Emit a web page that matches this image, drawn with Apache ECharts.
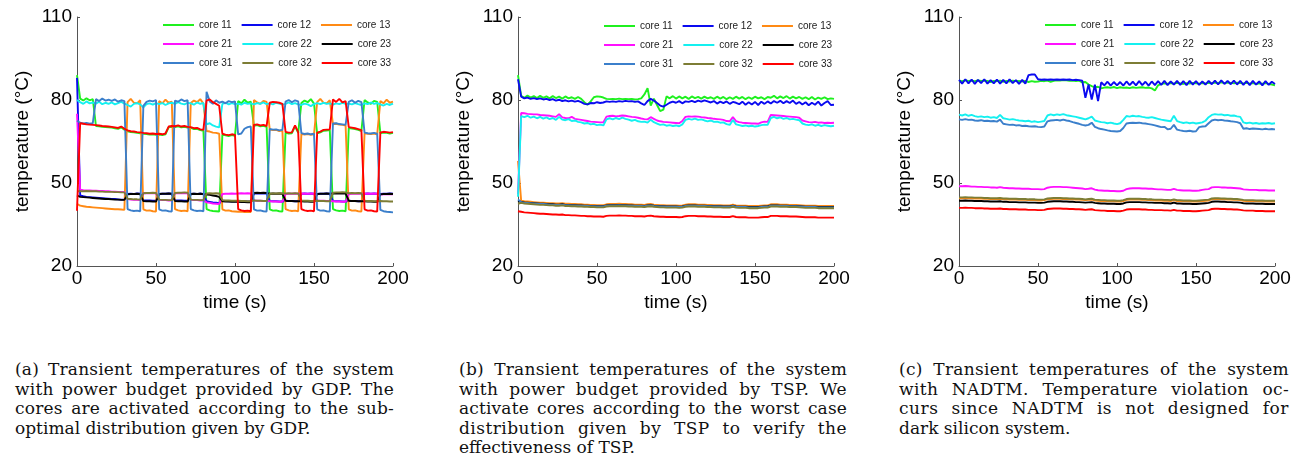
<!DOCTYPE html>
<html>
<head>
<meta charset="utf-8">
<script src="https://cdn.jsdelivr.net/npm/echarts@6/dist/echarts.min.js"></script>
<style>
  html, body { margin: 0; padding: 0; background: #fff; }
  #chart { position: absolute; left: 0; top: 0; width: 1307px; height: 330px; }
  .caption { position: absolute; top: 360px; font-family: "DejaVu Serif", serif; font-size: 17px; line-height: 19.6px; color: #111; }
  .caption div { white-space: nowrap; }
</style>
</head>
<body>
<div id="chart"></div>
<div class="caption" style="left:15px;width:379px">
  <div><span>(a) Transient temperatures of the system</span></div>
  <div><span>with power budget provided by GDP. The</span></div>
  <div><span>cores are activated according to the sub-</span></div>
  <div class="last"><span>optimal distribution given by GDP.</span></div>
</div>
<div class="caption" style="left:459px;width:388px">
  <div><span>(b) Transient temperatures of the system</span></div>
  <div><span>with power budget provided by TSP. We</span></div>
  <div><span>activate cores according to the worst case</span></div>
  <div><span>distribution given by TSP to verify the</span></div>
  <div class="last"><span>effectiveness of TSP.</span></div>
</div>
<div class="caption" style="left:899px;width:390px">
  <div><span>(c) Transient temperatures of the system</span></div>
  <div><span>with NADTM. Temperature violation oc-</span></div>
  <div><span>curs since NADTM is not designed for</span></div>
  <div class="last"><span>dark silicon system.</span></div>
</div>
<script>
const time = [0, 2, 4, 6, 8, 10, 12, 14, 16, 18, 20, 22, 24, 26, 28, 30, 32, 34, 36, 38,
  40, 42, 44, 46, 48, 50, 52, 54, 56, 58, 60, 62, 64, 66, 68, 70, 72, 74, 76, 78,
  80, 82, 84, 86, 88, 90, 92, 94, 96, 98, 100, 102, 104, 106, 108, 110, 112, 114, 116, 118,
  120, 122, 124, 126, 128, 130, 132, 134, 136, 138, 140, 142, 144, 146, 148, 150, 152, 154, 156, 158,
  160, 162, 164, 166, 168, 170, 172, 174, 176, 178, 180, 182, 184, 186, 188, 190, 192, 194, 196, 198, 200];
const coreNames = ["core 11", "core 12", "core 13", "core 21", "core 22", "core 23", "core 31", "core 32", "core 33"];
const timeTicks = [0, 50, 100, 150, 200];
const tempTicks = [20, 50, 80, 110];

// (a) GDP
const gdp11 = [89.0,
  80.5, 79.8, 80.6, 79.9, 80.3, 70.6, 70.5, 70.3, 70.2, 70.1, 70.0, 69.8, 69.6, 70.1, 69.3,
  68.7, 68.4, 68.3, 68.1, 68.0, 67.8, 67.7, 67.5, 67.6, 67.4, 67.5, 67.3, 67.6, 70.1, 70.3,
  70.2, 70.5, 70.1, 70.3, 70.0, 69.9, 69.5, 69.6, 69.1, 68.9, 40.6, 40.1, 39.9, 39.8, 39.7,
  67.5, 67.2, 67.0, 67.3, 67.1, 79.6, 78.8, 80.1, 79.0, 79.4, 70.7, 70.9, 70.5, 70.7, 70.3,
  40.5, 40.0, 40.1, 39.8, 39.7, 68.2, 67.9, 68.0, 70.5, 68.1, 78.9, 79.8, 79.2, 80.3, 78.7,
  67.9, 68.3, 68.9, 69.0, 69.1, 40.6, 40.1, 39.9, 40.0, 39.8, 69.9, 69.7, 69.5, 69.2, 68.8,
  80.0, 79.1, 78.6, 79.7, 79.3, 68.0, 68.2, 68.1, 67.9, 68.1];
const gdp12 = [88.0,
  45.5, 45.2, 45.0, 44.9, 44.8, 44.7, 44.6, 44.5, 44.4, 44.3, 44.2, 44.2, 44.1, 44.0, 44.0,
  46.0, 46.1, 46.0, 46.2, 46.1, 43.8, 43.7, 43.7, 43.6, 43.6, 46.0, 46.1, 46.1, 46.2, 46.1,
  43.8, 43.7, 43.7, 43.6, 43.6, 46.0, 46.1, 46.0, 46.2, 46.0, 43.4, 43.2, 43.0, 42.9, 42.7,
  43.6, 43.5, 43.4, 43.5, 43.4, 43.5, 43.4, 43.4, 43.3, 43.3, 46.2, 46.3, 46.2, 46.3, 46.2,
  43.5, 43.4, 43.4, 43.3, 43.3, 43.6, 43.5, 43.5, 43.4, 43.4, 46.1, 46.2, 46.1, 46.2, 46.1,
  46.0, 46.1, 46.1, 46.2, 46.1, 43.5, 43.4, 43.4, 43.3, 43.3, 43.6, 43.5, 43.5, 43.4, 43.4,
  46.1, 46.2, 46.1, 46.2, 46.1, 46.0, 46.1, 46.1, 46.2, 46.1];
const gdp13 = [42.5,
  41.8, 41.6, 41.4, 41.3, 41.2, 41.1, 41.0, 40.9, 40.8, 40.7, 40.6, 40.5, 40.5, 40.4, 40.3,
  79.2, 80.4, 79.0, 78.8, 79.9, 40.5, 40.0, 40.1, 39.8, 39.7, 79.6, 78.8, 80.1, 79.0, 79.4,
  40.6, 40.1, 39.9, 40.0, 39.8, 78.9, 79.8, 79.2, 80.3, 78.7, 68.8, 68.6, 68.2, 68.1, 67.8,
  40.5, 40.0, 40.1, 39.8, 39.7, 39.6, 39.7, 39.5, 39.6, 39.5, 80.0, 79.1, 78.6, 79.7, 79.3,
  69.3, 69.1, 69.2, 68.8, 69.0, 40.6, 40.1, 39.9, 40.0, 39.8, 67.8, 67.5, 67.7, 67.4, 67.6,
  79.2, 80.4, 79.0, 78.8, 79.9, 71.3, 71.4, 71.1, 71.0, 70.8, 40.5, 40.0, 40.1, 39.8, 39.7,
  68.0, 67.8, 67.7, 67.9, 67.6, 79.6, 78.8, 80.1, 79.0, 79.4];
const gdp21 = [75.0,
  47.6, 47.4, 47.3, 47.3, 47.2, 47.2, 47.1, 47.1, 47.0, 47.0, 46.9, 46.9, 46.8, 46.8, 46.7,
  44.2, 44.0, 43.9, 43.9, 43.8, 46.3, 46.4, 46.3, 46.4, 46.3, 43.9, 43.8, 43.8, 43.7, 43.7,
  46.3, 46.4, 46.3, 46.4, 46.3, 43.9, 43.8, 43.8, 43.7, 43.7, 43.0, 42.8, 42.6, 42.5, 42.4,
  46.0, 46.1, 46.1, 46.2, 46.1, 46.2, 46.3, 46.2, 46.3, 46.2, 43.7, 43.6, 43.6, 43.5, 43.5,
  43.4, 43.3, 43.3, 43.2, 43.2, 46.0, 46.1, 46.1, 46.2, 46.1, 46.1, 46.2, 46.1, 46.2, 46.1,
  43.7, 43.6, 43.6, 43.5, 43.5, 43.4, 43.3, 43.3, 43.2, 43.2, 46.0, 46.1, 46.1, 46.2, 46.1,
  46.1, 46.2, 46.1, 46.2, 46.1, 45.8, 45.9, 45.9, 46.0, 45.9];
const gdp22 = [80.0,
  79.2, 78.6, 79.5, 78.8, 79.1, 78.7, 79.4, 78.5, 79.0, 78.6, 79.1, 78.4, 78.9, 79.3, 78.7,
  78.2, 77.6, 78.6, 78.9, 78.4, 77.3, 78.5, 78.8, 78.3, 78.9, 78.5, 78.9, 78.2, 78.8, 79.0,
  78.6, 79.2, 78.7, 78.4, 79.0, 78.8, 78.3, 79.1, 78.6, 78.9, 71.2, 71.6, 70.8, 70.4, 70.1,
  78.6, 79.0, 78.4, 78.9, 78.5, 78.7, 78.3, 79.0, 78.6, 78.8, 78.4, 78.9, 78.6, 79.1, 78.5,
  78.8, 78.4, 79.0, 78.7, 78.3, 78.6, 79.1, 78.5, 78.9, 78.4, 78.2, 78.7, 78.4, 77.8, 78.5,
  78.9, 78.5, 79.0, 78.6, 78.8, 78.3, 78.8, 78.5, 79.0, 78.6, 78.7, 78.4, 78.9, 78.5, 78.2,
  78.8, 78.5, 79.1, 78.6, 78.9, 78.4, 78.0, 78.6, 78.2, 78.7];
const gdp23 = [45.5,
  45.0, 44.9, 44.8, 44.7, 44.6, 44.5, 44.4, 44.3, 44.2, 44.2, 44.1, 44.0, 44.0, 43.9, 43.9,
  45.9, 46.0, 46.0, 46.1, 46.0, 43.5, 43.4, 43.4, 43.3, 43.3, 46.0, 46.1, 46.1, 46.2, 46.1,
  43.5, 43.4, 43.4, 43.3, 43.3, 46.0, 46.1, 46.0, 46.1, 46.0, 45.8, 45.7, 45.5, 45.3, 45.0,
  43.4, 43.3, 43.3, 43.2, 43.2, 43.2, 43.1, 43.1, 43.0, 43.0, 46.4, 46.5, 46.4, 46.5, 46.4,
  46.1, 46.2, 46.1, 46.2, 46.1, 43.6, 43.5, 43.5, 43.4, 43.4, 43.4, 43.3, 43.3, 43.2, 43.2,
  46.0, 46.1, 46.1, 46.2, 46.1, 46.2, 46.3, 46.2, 46.3, 46.2, 43.6, 43.5, 43.5, 43.4, 43.4,
  43.4, 43.3, 43.3, 43.2, 43.2, 45.9, 46.0, 46.0, 46.1, 46.0];
const gdp31 = [72.5,
  71.8, 71.5, 71.7, 71.4, 71.6, 80.3, 79.6, 80.5, 79.8, 80.1, 79.7, 80.2, 79.4, 79.9, 79.6,
  40.6, 40.1, 39.9, 40.0, 39.8, 77.9, 79.3, 79.8, 79.5, 80.0, 40.5, 40.0, 40.1, 39.8, 39.7,
  79.8, 79.4, 80.2, 79.6, 79.9, 40.6, 40.1, 39.9, 40.0, 39.8, 83.0, 79.5, 78.6, 79.9, 79.0,
  79.4, 78.8, 79.6, 79.2, 79.5, 67.6, 67.9, 69.6, 70.2, 70.4, 40.5, 40.0, 40.1, 39.8, 39.7,
  69.5, 69.3, 69.4, 69.0, 69.2, 79.4, 80.0, 79.2, 79.9, 79.5, 68.0, 67.7, 67.9, 67.6, 67.8,
  40.5, 40.0, 40.1, 39.8, 39.7, 71.5, 71.6, 71.3, 71.2, 71.0, 79.3, 79.9, 79.0, 79.7, 79.2,
  68.2, 68.0, 67.9, 68.1, 67.8, 40.3, 39.8, 39.6, 39.5, 39.4];
const gdp32 = [47.0,
  47.0, 47.0, 47.1, 47.0, 47.0, 47.0, 46.9, 46.9, 46.8, 46.8, 46.8, 46.7, 46.7, 46.6, 46.6,
  44.3, 44.2, 44.1, 44.1, 44.0, 46.3, 46.4, 46.4, 46.5, 46.4, 44.0, 43.9, 43.9, 43.8, 43.8,
  46.4, 46.5, 46.5, 46.6, 46.5, 44.0, 43.9, 43.9, 43.8, 43.8, 46.2, 46.3, 46.2, 46.3, 46.2,
  43.8, 43.7, 43.7, 43.6, 43.6, 43.6, 43.5, 43.5, 43.4, 43.4, 43.7, 43.6, 43.6, 43.5, 43.5,
  46.1, 46.2, 46.2, 46.3, 46.2, 46.2, 46.3, 46.2, 46.3, 46.2, 43.7, 43.6, 43.6, 43.5, 43.5,
  43.6, 43.5, 43.5, 43.4, 43.4, 46.5, 46.6, 46.6, 46.7, 46.6, 46.3, 46.4, 46.3, 46.4, 46.3,
  43.6, 43.5, 43.5, 43.4, 43.4, 43.5, 43.4, 43.4, 43.3, 43.3];
const gdp33 = [40.0,
  71.6, 71.4, 71.2, 71.1, 71.0, 70.9, 70.8, 70.6, 70.5, 70.4, 70.3, 70.1, 69.9, 70.4, 69.6,
  69.0, 68.7, 68.6, 68.4, 68.3, 68.1, 68.0, 67.8, 67.9, 67.7, 67.8, 67.6, 67.9, 70.4, 70.6,
  70.5, 70.8, 70.4, 70.6, 70.3, 70.2, 69.8, 69.9, 69.4, 69.2, 79.8, 80.2, 79.2, 78.6, 77.9,
  67.8, 67.5, 67.3, 67.6, 67.4, 40.6, 40.1, 39.9, 40.0, 39.8, 71.0, 71.2, 70.8, 71.0, 70.6,
  79.0, 79.3, 79.2, 79.0, 78.6, 68.5, 68.2, 68.3, 70.8, 68.4, 40.6, 40.1, 39.9, 40.0, 39.8,
  68.2, 68.6, 69.2, 69.3, 69.4, 80.2, 79.3, 80.4, 79.1, 79.6, 70.2, 70.0, 69.8, 69.5, 69.1,
  40.5, 40.0, 40.1, 39.8, 39.7, 68.3, 68.5, 68.4, 68.2, 68.4];

// (b) TSP
const tsp11 = [89.0, 81.5, 80.8, 81.6, 80.9, 81.4, 80.7, 81.5, 80.8, 81.3,
  80.6, 81.4, 80.7, 81.2, 80.5, 81.3, 80.6, 81.0, 80.4, 81.1,
  80.4, 79.2, 78.3, 79.5, 81.0, 81.3, 81.2, 80.9, 80.4, 80.3,
  80.4, 80.3, 80.5, 80.3, 80.4, 80.3, 80.4, 80.2, 80.3, 80.6,
  82.0, 84.3, 78.0, 80.5, 78.2, 76.0, 76.5, 81.3, 80.6, 81.4,
  80.5, 81.3, 80.6, 81.2, 80.4, 81.3, 80.7, 81.1, 80.5, 81.2,
  80.6, 81.0, 80.4, 81.2, 80.5, 81.1, 80.3, 81.0, 80.4, 81.2,
  80.5, 81.1, 80.3, 81.0, 80.4, 81.2, 80.6, 81.0, 80.3, 81.1,
  80.8, 81.5, 80.6, 81.3, 80.7, 81.4, 80.5, 81.2, 80.6, 81.1,
  80.4, 81.0, 80.3, 81.1, 80.2, 80.9, 80.4, 81.0, 80.3, 80.6, 80.4];
const tsp12 = [87.5, 81.2, 80.6, 80.9, 80.4, 80.7, 80.3, 80.6, 80.2, 80.4,
  80.0, 80.3, 79.8, 80.1, 79.6, 79.9, 79.5, 79.8, 79.4, 79.7,
  79.2, 78.6, 78.4, 78.9, 78.8, 79.2, 78.9, 79.1, 79.5, 79.3,
  79.5, 79.3, 79.6, 79.4, 79.7, 79.5, 79.6, 79.3, 79.5, 78.8,
  78.2, 79.6, 80.4, 79.8, 78.9, 78.0, 77.6, 78.3, 79.0, 79.4,
  79.0, 79.6, 78.8, 79.5, 79.3, 79.7, 79.2, 79.8, 79.4, 79.9,
  79.5, 79.1, 79.6, 78.7, 79.4, 78.9, 79.5, 78.6, 79.3, 79.0,
  78.5, 79.4, 78.3, 79.2, 78.4, 79.3, 78.2, 79.4, 78.6, 79.5,
  78.7, 79.6, 79.0, 79.7, 78.8, 79.6, 78.9, 79.8, 78.6, 79.3,
  78.4, 79.2, 78.1, 79.0, 78.3, 79.4, 78.0, 78.9, 79.6, 78.2, 78.3];
const tsp13 = [58.0, 43.6, 43.4, 43.3, 43.2, 43.1, 43.0, 42.9, 42.9, 42.8,
  42.7, 42.7, 42.6, 42.6, 42.7, 42.5, 42.5, 42.4, 42.4, 42.3,
  42.3, 42.2, 42.2, 42.1, 42.1, 42.0, 42.0, 42.0, 42.3, 42.4,
  42.4, 42.4, 42.5, 42.4, 42.4, 42.3, 42.3, 42.2, 42.2, 42.2,
  42.1, 42.3, 42.4, 42.2, 42.1, 42.0, 42.0, 41.9, 41.9, 41.9,
  41.9, 41.8, 41.9, 42.2, 42.3, 42.3, 42.3, 42.2, 42.2, 42.2,
  42.1, 42.1, 42.0, 42.0, 42.0, 41.9, 41.9, 41.9, 42.2, 41.9,
  41.8, 41.8, 41.8, 41.7, 41.7, 41.7, 41.7, 41.8, 41.9, 41.9,
  42.3, 42.3, 42.3, 42.2, 42.2, 42.2, 42.1, 42.1, 42.1, 42.0,
  41.9, 41.8, 41.8, 41.8, 41.8, 41.7, 41.7, 41.7, 41.7, 41.7, 41.7];
const tsp21 = [46.0, 75.3, 75.2, 75.0, 74.9, 74.8, 74.8, 74.6, 74.5, 74.4,
  74.3, 74.1, 73.9, 74.9, 73.7, 73.5, 73.4, 73.9, 73.2, 73.0,
  72.8, 72.6, 72.4, 72.2, 72.1, 72.0, 71.9, 71.9, 74.0, 74.2,
  74.3, 74.1, 74.2, 74.4, 74.3, 74.1, 73.9, 73.8, 73.6, 73.3,
  73.1, 73.0, 73.8, 73.2, 72.6, 72.3, 72.1, 72.0, 71.9, 71.8,
  71.7, 71.6, 72.4, 73.9, 74.1, 74.0, 74.1, 74.0, 73.8, 73.7,
  73.5, 73.4, 73.2, 73.1, 73.0, 72.8, 72.4, 72.3, 73.8, 72.4,
  72.0, 71.8, 71.7, 71.6, 71.5, 71.5, 71.4, 71.9, 72.2, 72.1,
  74.6, 74.5, 74.4, 74.3, 74.2, 74.1, 74.0, 73.9, 73.8, 73.6,
  72.6, 72.3, 72.0, 71.9, 72.1, 71.8, 71.9, 71.7, 71.8, 71.7, 71.8];
const tsp22 = [45.0, 74.2, 73.8, 74.3, 73.6, 74.0, 73.4, 73.9, 73.3, 73.7,
  73.1, 73.5, 72.8, 73.9, 72.9, 72.7, 73.1, 72.4, 72.6, 72.1,
  71.9, 71.5, 71.7, 71.2, 71.4, 70.9, 71.1, 70.8, 73.0, 73.4,
  73.0, 73.5, 73.1, 73.6, 73.2, 72.9, 72.5, 72.8, 72.3, 72.1,
  72.2, 71.8, 72.9, 72.0, 71.5, 71.0, 71.2, 70.7, 70.9, 70.6,
  70.8, 70.5, 71.2, 72.8, 73.2, 72.9, 73.3, 72.8, 73.0, 72.6,
  72.3, 72.6, 72.1, 72.2, 71.8, 71.9, 71.3, 71.0, 72.8, 71.2,
  70.9, 70.6, 70.8, 70.5, 70.7, 70.4, 70.6, 70.9, 71.1, 71.0,
  73.5, 73.9, 73.4, 73.7, 73.2, 73.5, 73.0, 73.2, 72.9, 72.7,
  71.5, 71.1, 70.9, 71.2, 70.7, 71.0, 70.6, 70.9, 70.7, 70.5, 70.7];
const tsp23 = [43.5, 43.2, 43.0, 42.9, 42.8, 42.7, 42.6, 42.5, 42.5, 42.4,
  42.3, 42.3, 42.2, 42.2, 42.3, 42.1, 42.1, 42.0, 42.0, 41.9,
  41.9, 41.8, 41.8, 41.7, 41.7, 41.6, 41.6, 41.6, 41.9, 42.0,
  42.0, 42.0, 42.1, 42.0, 42.0, 41.9, 41.9, 41.8, 41.8, 41.8,
  41.7, 41.9, 42.0, 41.8, 41.7, 41.6, 41.6, 41.5, 41.5, 41.5,
  41.5, 41.4, 41.5, 41.8, 41.9, 41.9, 41.9, 41.8, 41.8, 41.8,
  41.7, 41.7, 41.6, 41.6, 41.6, 41.5, 41.5, 41.5, 41.8, 41.5,
  41.4, 41.4, 41.4, 41.3, 41.3, 41.3, 41.3, 41.4, 41.5, 41.5,
  41.9, 41.9, 41.9, 41.8, 41.8, 41.8, 41.7, 41.7, 41.7, 41.6,
  41.5, 41.4, 41.4, 41.4, 41.4, 41.3, 41.3, 41.3, 41.3, 41.3, 41.3];
const tsp31 = [44.0, 43.1, 42.9, 42.8, 42.7, 42.6, 42.5, 42.4, 42.4, 42.3,
  42.2, 42.2, 42.1, 42.1, 42.2, 42.0, 42.0, 41.9, 41.9, 41.8,
  41.8, 41.7, 41.7, 41.6, 41.6, 41.5, 41.5, 41.5, 41.8, 41.9,
  41.9, 41.9, 42.0, 41.9, 41.9, 41.8, 41.8, 41.7, 41.7, 41.7,
  41.6, 41.8, 41.9, 41.7, 41.6, 41.5, 41.5, 41.4, 41.4, 41.4,
  41.4, 41.3, 41.4, 41.7, 41.8, 41.8, 41.8, 41.7, 41.7, 41.7,
  41.6, 41.6, 41.5, 41.5, 41.5, 41.4, 41.4, 41.4, 41.7, 41.4,
  41.3, 41.3, 41.3, 41.2, 41.2, 41.2, 41.2, 41.3, 41.4, 41.4,
  41.8, 41.8, 41.8, 41.7, 41.7, 41.7, 41.6, 41.6, 41.6, 41.5,
  41.4, 41.3, 41.3, 41.3, 41.3, 41.2, 41.2, 41.2, 41.2, 41.2, 41.2];
const tsp32 = [42.5, 42.8, 42.6, 42.5, 42.4, 42.3, 42.2, 42.1, 42.1, 42.0,
  41.9, 41.9, 41.8, 41.8, 41.9, 41.7, 41.7, 41.6, 41.6, 41.5,
  41.5, 41.4, 41.4, 41.3, 41.3, 41.2, 41.2, 41.2, 41.5, 41.6,
  41.6, 41.6, 41.7, 41.6, 41.6, 41.5, 41.5, 41.4, 41.4, 41.4,
  41.3, 41.5, 41.6, 41.4, 41.3, 41.2, 41.2, 41.1, 41.1, 41.1,
  41.1, 41.0, 41.1, 41.4, 41.5, 41.5, 41.5, 41.4, 41.4, 41.4,
  41.3, 41.3, 41.2, 41.2, 41.2, 41.1, 41.1, 41.1, 41.4, 41.1,
  41.0, 41.0, 41.0, 40.9, 40.9, 40.9, 40.9, 41.0, 41.1, 41.1,
  41.5, 41.5, 41.5, 41.4, 41.4, 41.4, 41.3, 41.3, 41.3, 41.2,
  41.1, 41.0, 41.0, 41.0, 41.0, 40.9, 40.9, 40.9, 40.9, 40.9, 40.9];
const tsp33 = [39.8, 39.6, 39.4, 39.3, 39.2, 39.1, 39.0, 38.9, 38.9, 38.8,
  38.7, 38.6, 38.6, 38.5, 38.6, 38.4, 38.4, 38.3, 38.3, 38.2,
  38.1, 38.1, 38.0, 38.0, 37.9, 37.9, 37.9, 37.8, 38.1, 38.2,
  38.2, 38.2, 38.3, 38.2, 38.2, 38.1, 38.1, 38.0, 38.0, 38.0,
  37.9, 38.1, 38.2, 38.0, 37.9, 37.8, 37.8, 37.7, 37.7, 37.7,
  37.7, 37.6, 37.7, 38.0, 38.1, 38.1, 38.1, 38.0, 38.0, 38.0,
  37.9, 37.9, 37.8, 37.8, 37.8, 37.7, 37.7, 37.7, 38.0, 37.7,
  37.6, 37.6, 37.6, 37.5, 37.5, 37.5, 37.5, 37.6, 37.7, 37.7,
  38.1, 38.1, 38.1, 38.0, 38.0, 38.0, 37.9, 37.9, 37.9, 37.8,
  37.7, 37.6, 37.6, 37.6, 37.6, 37.5, 37.5, 37.5, 37.5, 37.5, 37.5];

// (c) NADTM
const nad11 = [87.0, 86.8, 87.1, 86.9, 87.0, 86.8, 87.1, 86.9, 87.0, 86.9,
  86.5, 86.9, 86.8, 87.0, 86.6, 86.9, 86.7, 87.0, 86.8, 86.9,
  86.7, 86.9, 86.5, 86.8, 86.6, 86.7, 86.9, 86.8, 87.0, 86.6,
  86.9, 87.1, 87.0, 87.2, 87.1, 86.9, 87.0, 86.8, 87.0, 86.4,
  86.5, 85.6, 85.0, 84.6, 84.8, 84.2, 84.5, 84.6, 84.4, 84.7,
  84.3, 84.6, 84.4, 84.5, 84.3, 84.6, 84.4, 84.5, 84.6, 84.4,
  84.5, 84.2, 83.4, 85.3, 85.8, 86.0, 85.9, 86.1, 85.9, 86.2,
  86.0, 85.8, 86.1, 85.9, 86.2, 86.0, 85.9, 86.1, 86.0, 86.2,
  86.1, 86.3, 86.2, 86.4, 86.1, 86.3, 86.2, 86.0, 86.3, 86.1,
  86.0, 86.2, 85.9, 86.1, 85.8, 86.0, 85.9, 86.1, 85.8, 85.6, 85.3];
const nad12 = [87.3, 85.9, 87.5, 86.0, 87.4, 85.8, 87.3, 86.1, 87.5, 85.9,
  87.2, 86.0, 87.4, 85.9, 87.3, 86.0, 87.5, 86.1, 87.2, 85.8,
  87.3, 85.9, 89.0, 89.2, 89.2, 87.5, 87.3, 87.4, 87.3, 87.4,
  87.3, 87.4, 87.3, 87.4, 87.3, 87.4, 87.2, 87.3, 87.2, 87.0,
  80.8, 85.6, 80.2, 85.5, 79.6, 86.4, 85.3, 86.6, 85.2, 86.5,
  85.3, 86.5, 85.2, 86.7, 85.4, 86.6, 85.3, 86.8, 85.4, 86.6,
  85.2, 86.7, 85.4, 86.8, 85.5, 86.9, 85.4, 86.7, 85.6, 86.9,
  85.5, 86.8, 85.4, 86.9, 85.6, 86.8, 85.5, 86.7, 85.6, 86.9,
  85.7, 87.0, 85.6, 87.1, 85.8, 86.9, 85.7, 87.0, 85.6, 86.9,
  85.5, 86.8, 85.4, 86.9, 85.6, 86.7, 85.3, 86.8, 85.5, 86.6, 85.8];
const nad13 = [44.5, 44.5, 44.6, 44.5, 44.5, 44.4, 44.4, 44.4, 44.3, 44.3,
  44.2, 44.2, 44.2, 44.3, 44.1, 44.1, 44.0, 44.0, 44.0, 43.9,
  43.9, 43.9, 43.8, 43.8, 43.8, 43.7, 43.7, 43.8, 44.1, 44.2,
  44.3, 44.3, 44.3, 44.2, 44.2, 44.1, 44.1, 44.0, 44.0, 43.9,
  43.8, 43.9, 44.0, 43.7, 43.6, 43.5, 43.5, 43.4, 43.4, 43.4,
  43.3, 43.3, 43.5, 43.9, 44.0, 44.0, 44.0, 44.0, 43.9, 43.9,
  43.8, 43.8, 43.7, 43.7, 43.7, 43.6, 43.6, 43.5, 43.8, 43.5,
  43.5, 43.4, 43.4, 43.4, 43.3, 43.3, 43.4, 43.5, 43.6, 43.7,
  44.1, 44.2, 44.2, 44.1, 44.1, 44.0, 44.0, 43.9, 43.9, 43.8,
  43.6, 43.5, 43.5, 43.5, 43.4, 43.4, 43.4, 43.3, 43.3, 43.3, 43.3];
const nad21 = [48.8, 48.8, 48.9, 48.8, 48.7, 48.7, 48.6, 48.6, 48.5, 48.5,
  48.4, 48.4, 48.3, 48.5, 48.3, 48.2, 48.1, 48.1, 48.0, 48.0,
  47.9, 47.9, 47.9, 47.8, 47.8, 47.8, 47.7, 47.8, 48.3, 48.5,
  48.6, 48.6, 48.6, 48.5, 48.5, 48.4, 48.3, 48.2, 48.1, 48.0,
  47.8, 47.9, 48.1, 47.6, 47.4, 47.3, 47.2, 47.2, 47.1, 47.1,
  47.0, 47.0, 47.2, 47.8, 48.0, 48.1, 48.1, 48.1, 48.0, 48.0,
  47.9, 47.9, 47.8, 47.7, 47.7, 47.6, 47.5, 47.5, 47.9, 47.5,
  47.4, 47.3, 47.3, 47.3, 47.2, 47.2, 47.3, 47.5, 47.7, 47.8,
  48.4, 48.5, 48.5, 48.4, 48.4, 48.3, 48.3, 48.2, 48.1, 48.0,
  47.7, 47.6, 47.5, 47.5, 47.5, 47.4, 47.4, 47.4, 47.3, 47.3, 47.3];
const nad22 = [74.7, 74.4, 74.8, 74.3, 74.6, 74.2, 73.9, 74.1, 73.8, 74.0,
  73.6, 73.8, 73.5, 74.6, 73.4, 73.2, 72.9, 73.1, 72.8, 72.6,
  72.5, 72.3, 72.5, 72.1, 72.3, 72.0, 72.2, 72.4, 74.4, 74.8,
  74.5, 74.8, 74.6, 74.9, 74.5, 74.3, 74.1, 73.9, 73.6, 73.3,
  73.0, 73.4, 74.0, 72.6, 72.3, 72.0, 71.9, 71.6, 71.8, 71.5,
  71.3, 71.6, 72.8, 74.2, 74.0, 74.3, 74.1, 74.2, 73.9, 73.7,
  73.6, 73.8, 73.5, 73.2, 72.9, 72.7, 72.5, 72.3, 74.3, 72.4,
  72.0, 71.7, 71.9, 71.6, 71.8, 71.5, 71.7, 71.9, 72.5, 73.8,
  74.6, 74.9, 74.7, 74.8, 74.5, 74.6, 74.3, 74.4, 74.1, 73.9,
  71.9, 71.6, 71.8, 71.5, 71.7, 71.4, 71.6, 71.5, 71.7, 71.4, 71.6];
const nad23 = [43.6, 43.6, 43.7, 43.6, 43.6, 43.5, 43.5, 43.5, 43.4, 43.4,
  43.3, 43.3, 43.3, 43.4, 43.2, 43.2, 43.1, 43.1, 43.1, 43.0,
  43.0, 43.0, 42.9, 42.9, 42.9, 42.8, 42.8, 42.9, 43.2, 43.3,
  43.4, 43.4, 43.4, 43.3, 43.3, 43.2, 43.2, 43.1, 43.1, 43.0,
  42.9, 43.0, 43.1, 42.8, 42.7, 42.6, 42.6, 42.5, 42.5, 42.5,
  42.4, 42.4, 42.6, 43.0, 43.1, 43.1, 43.1, 43.1, 43.0, 43.0,
  42.9, 42.9, 42.8, 42.8, 42.8, 42.7, 42.7, 42.6, 42.9, 42.6,
  42.6, 42.5, 42.5, 42.5, 42.4, 42.4, 42.5, 42.6, 42.7, 42.8,
  43.2, 43.3, 43.3, 43.2, 43.2, 43.1, 43.1, 43.0, 43.0, 42.9,
  42.7, 42.6, 42.6, 42.6, 42.5, 42.5, 42.5, 42.4, 42.4, 42.4, 42.4];
const nad31 = [73.0, 72.8, 73.1, 72.8, 72.9, 72.6, 72.5, 72.7, 72.4, 72.5,
  72.3, 72.4, 72.2, 72.9, 71.4, 71.2, 71.0, 71.1, 70.8, 70.9,
  70.6, 70.7, 70.5, 70.4, 70.5, 70.3, 70.2, 70.4, 72.3, 72.6,
  72.7, 72.8, 72.6, 72.9, 72.6, 72.4, 72.0, 71.7, 71.4, 71.0,
  70.8, 71.0, 71.8, 70.3, 69.8, 69.5, 69.3, 69.0, 68.8, 68.7,
  68.6, 68.8, 69.9, 71.5, 71.7, 71.8, 71.7, 71.8, 71.6, 71.5,
  71.3, 71.1, 70.8, 70.5, 70.2, 70.3, 69.4, 69.6, 71.0, 69.3,
  69.0, 68.8, 68.7, 68.9, 68.6, 68.7, 70.2, 70.4, 70.5, 71.6,
  72.6, 72.9, 72.7, 72.8, 72.6, 72.5, 72.3, 72.2, 72.0, 71.6,
  69.6, 69.8, 69.5, 69.7, 69.6, 69.5, 69.4, 69.6, 69.4, 69.5, 69.4];
const nad32 = [44.8, 44.8, 44.9, 44.8, 44.8, 44.7, 44.7, 44.7, 44.6, 44.6,
  44.5, 44.5, 44.5, 44.6, 44.4, 44.4, 44.3, 44.3, 44.3, 44.2,
  44.2, 44.2, 44.1, 44.1, 44.1, 44.0, 44.0, 44.1, 44.4, 44.5,
  44.6, 44.6, 44.6, 44.5, 44.5, 44.4, 44.4, 44.3, 44.3, 44.2,
  44.1, 44.2, 44.3, 44.0, 43.9, 43.8, 43.8, 43.7, 43.7, 43.7,
  43.6, 43.6, 43.8, 44.2, 44.3, 44.3, 44.3, 44.3, 44.2, 44.2,
  44.1, 44.1, 44.0, 44.0, 44.0, 43.9, 43.9, 43.8, 44.1, 43.8,
  43.8, 43.7, 43.7, 43.7, 43.6, 43.6, 43.7, 43.8, 43.9, 44.0,
  44.4, 44.5, 44.5, 44.4, 44.4, 44.3, 44.3, 44.2, 44.2, 44.1,
  43.9, 43.8, 43.8, 43.8, 43.7, 43.7, 43.7, 43.6, 43.6, 43.6, 43.6];
const nad33 = [41.0, 41.0, 41.1, 41.0, 41.0, 40.9, 40.9, 40.9, 40.8, 40.8,
  40.7, 40.7, 40.7, 40.8, 40.6, 40.6, 40.5, 40.5, 40.5, 40.4,
  40.4, 40.4, 40.3, 40.3, 40.3, 40.2, 40.2, 40.3, 40.6, 40.7,
  40.8, 40.8, 40.8, 40.7, 40.7, 40.6, 40.6, 40.5, 40.5, 40.4,
  40.3, 40.4, 40.5, 40.2, 40.1, 40.0, 40.0, 39.9, 39.9, 39.9,
  39.8, 39.8, 40.0, 40.4, 40.5, 40.5, 40.5, 40.5, 40.4, 40.4,
  40.3, 40.3, 40.2, 40.2, 40.2, 40.1, 40.1, 40.0, 40.3, 40.0,
  40.0, 39.9, 39.9, 39.9, 39.8, 39.8, 39.9, 40.0, 40.1, 40.2,
  40.6, 40.7, 40.7, 40.6, 40.6, 40.5, 40.5, 40.4, 40.4, 40.3,
  40.1, 40.0, 40.0, 40.0, 39.9, 39.9, 39.9, 39.8, 39.8, 39.8, 39.8];

const panels = [
  [gdp11, gdp12, gdp13, gdp21, gdp22, gdp23, gdp31, gdp32, gdp33],
  [tsp11, tsp12, tsp13, tsp21, tsp22, tsp23, tsp31, tsp32, tsp33],
  [nad11, nad12, nad13, nad21, nad22, nad23, nad31, nad32, nad33]
];

const coreColors = ["#1ff01f", "#0a0af0", "#ff8a14", "#ff10ff", "#14f0f0", "#000000", "#3b7fcb", "#7d7d35", "#ff0000"];
const font = "Liberation Sans";
const gridLefts = [77, 518, 959];
const legendTops = [20, 21, 20];

const chart = echarts.init(document.getElementById("chart"), null, { renderer: "canvas" });

const series = [];
panels.forEach((set, p) => set.forEach((vals, k) => series.push({
  type: "line",
  name: coreNames[k],
  xAxisIndex: p,
  yAxisIndex: p,
  data: vals.map((v, i) => [time[i], v]),
  symbol: "none",
  silent: true,
  lineStyle: { width: 1.9, color: coreColors[k] },
  itemStyle: { color: coreColors[k] }
})));

chart.setOption({
  animation: false,
  grid: gridLefts.map(left => ({ left, top: 17, width: 316, height: 249 })),
  legend: gridLefts.map((left, p) => ({
    data: coreNames,
    left: left + 85,
    top: legendTops[p],
    width: 232,
    padding: 0,
    itemWidth: 31,
    itemHeight: 10,
    itemGap: 9,
    selectedMode: false,
    itemStyle: { opacity: 0, borderWidth: 0 },
    textStyle: { fontFamily: font, fontSize: 10, color: "#222" }
  })),
  xAxis: gridLefts.map((_, p) => ({
    type: "value", gridIndex: p, min: 0, max: 200, interval: 50,
    axisLine: { lineStyle: { color: "#555", width: 1 } },
    axisTick: { inside: true, length: 3, customValues: timeTicks, lineStyle: { color: "#555" } },
    axisLabel: { customValues: timeTicks, fontFamily: font, fontSize: 19, color: "#000", margin: 3 },
    splitLine: { show: false },
    name: "time (s)", nameLocation: "middle", nameGap: 25,
    nameTextStyle: { fontFamily: font, fontSize: 19, color: "#000" }
  })),
  yAxis: gridLefts.map((_, p) => ({
    type: "value", gridIndex: p, min: 20, max: 110,
    axisLine: { show: true, lineStyle: { color: "#555", width: 1 } },
    axisTick: { show: true, inside: true, length: 3, customValues: tempTicks, lineStyle: { color: "#555" } },
    axisLabel: { customValues: tempTicks, fontFamily: font, fontSize: 19, color: "#000", margin: 5 },
    splitLine: { show: false },
    name: "temperature (°C)", nameLocation: "middle", nameGap: 45,
    nameTextStyle: { fontFamily: font, fontSize: 19, color: "#000" }
  })),
  series
});

// justify caption lines to the column width, like the typeset original
document.querySelectorAll(".caption").forEach(box => {
  const full = box.clientWidth;
  box.querySelectorAll(":scope > div:not(.last) > span").forEach(span => {
    const text = span.textContent;
    const gaps = text.split(" ").length - 1;
    const spare = full - span.getBoundingClientRect().width;
    span.style.letterSpacing = (spare * 0.3 / text.length) + "px";
    span.style.wordSpacing = (spare * 0.7 / gaps) + "px";
  });
});
</script>
</body>
</html>
